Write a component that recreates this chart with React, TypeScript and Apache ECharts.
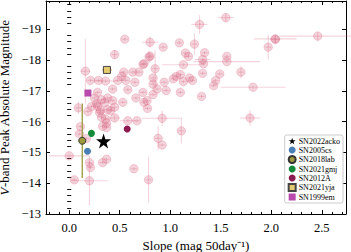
import React, { useEffect, useRef } from "react";
import * as echarts from "echarts";

// Axis ticks
const xMajorTicks = [0, 0.5, 1.0, 1.5, 2.0, 2.5];
const yMajorTicks = [-19, -18, -17, -16, -15, -14, -13];
const xMinorTicks: number[] = [];
for (let k = -2; k <= 27; k++) if (k % 5 !== 0) xMinorTicks.push(k / 10);
const yMinorTicks: number[] = [];
for (let k = -99; k <= -66; k++) if (k % 5 !== 0) yMinorTicks.push(k / 5);

// Comparison sample: [slope, peak mag, slope err, mag err]
const sampleSN: number[][] = [
  [1.55, -19.38, 0.08, 0.15],
  [1.29, -19.16, 0.08, 0.3],
  [0.55, -18.68, 0.03, 0.05],
  [0.80, -18.58, 0.08, 0.18],
  [0.93, -18.42, 0.03, 0.05],
  [1.09, -18.56, 0.03, 0.05],
  [1.24, -18.52, 0.03, 0.35],
  [0.45, -18.18, 0.03, 0.15],
  [0.79, -18.10, 0.03, 0.2],
  [0.80, -18.13, 0.03, 0.05],
  [1.15, -18.23, 0.03, 0.05],
  [1.18, -18.12, 0.03, 0.05],
  [1.34, -18.24, 0.03, 0.05],
  [1.32, -18.02, 0.08, 0.05],
  [1.56, -18.12, 0.03, 0.05],
  [1.56, -17.95, 0.33, 0.05],
  [1.97, -18.42, 0.03, 0.4],
  [2.04, -18.69, 0.21, 0.15],
  [2.04, -18.67, 0.05, 0.1],
  [2.46, -18.78, 0.38, 0.15],
  [0.74, -17.88, 0.03, 0.05],
  [0.73, -17.86, 0.03, 0.05],
  [1.13, -17.85, 0.21, 0.05],
  [1.33, -17.88, 0.03, 0.05],
  [0.16, -17.64, 0.05, 1.05],
  [0.69, -17.61, 0.03, 0.05],
  [0.63, -17.61, 0.03, 0.05],
  [0.54, -17.61, 0.03, 0.05],
  [0.85, -17.72, 0.03, 0.6],
  [1.10, -17.53, 0.03, 0.05],
  [1.06, -17.47, 0.03, 0.05],
  [1.32, -17.57, 0.03, 0.05],
  [1.49, -17.55, 0.03, 0.05],
  [1.70, -17.61, 0.03, 0.2],
  [0.21, -17.34, 0.03, 0.05],
  [0.29, -17.34, 0.03, 0.05],
  [0.36, -17.32, 0.12, 0.05],
  [0.48, -17.34, 0.03, 0.05],
  [0.52, -17.47, 0.03, 0.05],
  [0.56, -17.34, 0.03, 0.05],
  [0.65, -17.28, 0.03, 0.05],
  [0.83, -17.42, 0.03, 0.05],
  [0.83, -17.22, 0.03, 0.05],
  [0.87, -17.06, 0.03, 0.05],
  [0.94, -17.28, 0.03, 0.05],
  [1.03, -17.39, 0.03, 0.05],
  [1.19, -17.42, 0.03, 0.05],
  [1.22, -17.34, 0.03, 0.05],
  [1.13, -17.30, 0.03, 0.05],
  [1.45, -17.34, 0.03, 0.05],
  [1.43, -17.17, 0.03, 0.05],
  [1.82, -17.12, 0.32, 0.05],
  [0.43, -17.06, 0.03, 0.05],
  [0.58, -17.04, 0.03, 0.05],
  [0.96, -17.01, 0.03, 0.05],
  [1.10, -16.95, 0.03, 0.05],
  [1.31, -16.82, 0.03, 0.05],
  [0.28, -16.95, 0.03, 0.05],
  [0.73, -16.95, 0.03, 0.05],
  [0.83, -16.88, 0.03, 0.05],
  [0.66, -16.77, 0.03, 0.05],
  [0.77, -16.68, 0.03, 0.05],
  [0.53, -16.63, 0.03, 0.05],
  [0.43, -16.68, 0.03, 0.05],
  [0.38, -16.77, 0.03, 0.05],
  [0.32, -16.71, 0.03, 0.05],
  [0.25, -16.77, 0.03, 0.05],
  [0.35, -16.62, 0.03, 0.05],
  [0.27, -16.58, 0.03, 0.05],
  [0.28, -16.50, 0.03, 0.05],
  [0.22, -16.49, 0.03, 0.05],
  [0.09, -16.45, 0.03, 0.2],
  [0.74, -16.63, 0.03, 0.05],
  [0.31, -16.36, 0.03, 0.05],
  [0.41, -16.36, 0.03, 0.05],
  [0.185, -16.33, 0.03, 0.05],
  [0.30, -16.30, 0.03, 0.05],
  [0.38, -16.39, 0.03, 0.05],
  [0.45, -16.47, 0.03, 0.05],
  [0.775, -16.43, 0.03, 0.05],
  [0.92, -16.11, 0.2, 0.25],
  [1.79, -16.12, 0.1, 0.25],
  [0.32, -16.14, 0.03, 0.05],
  [0.36, -16.09, 0.03, 0.05],
  [0.45, -16.12, 0.05, 0.1],
  [0.58, -16.03, 0.08, 0.05],
  [0.67, -16.03, 0.03, 0.05],
  [0.11, -15.84, 0.03, 0.05],
  [0.37, -15.81, 0.03, 0.05],
  [0.33, -15.85, 0.03, 0.05],
  [0.37, -15.96, 0.03, 0.05],
  [0.10, -15.60, 0.03, 0.05],
  [0.17, -15.45, 0.03, 0.05],
  [1.11, -15.70, 0.03, 0.4],
  [0.88, -15.46, 0.03, 0.4],
  [0.92, -15.24, 0.03, 0.05],
  [0.00, -14.89, 0.2, 0.05],
  [0.20, -14.67, 0.03, 0.05],
  [0.21, -14.51, 0.03, 0.05],
  [0.33, -14.67, 0.03, 0.05],
  [0.37, -14.78, 0.03, 0.05],
  [0.05, -14.11, 0.03, 0.05],
  [0.20, -14.08, 0.18, 0.8],
  [0.64, -14.47, 0.03, 0.05],
  [0.785, -14.11, 0.03, 0.75],
];

// Highlighted objects
const highlightNames = ["SN2022acko", "SN2005cs", "SN2018lab", "SN2021gmj", "SN2012A", "SN2021yja", "SN1999em"];
const highlightSlope = [0.34, 0.181, 0.129, 0.22, 0.574, 0.373, 0.185];
const highlightMag = [-15.37, -15.04, -15.38, -15.62, -15.76, -17.68, -16.93];
const highlightSlopeErr = [0, 0, 0, 0, 0, 0.05, 0];
const highlightMagErr = [0, 0, 1.21, 0, 0, 0, 0];

const FONT = "Liberation Serif";
const STAR = "path://M50,0 L61.8,35.1 L98.1,35.1 L68.8,56.8 L79.4,90.9 L50,69.1 L20.6,90.9 L31.2,56.8 L1.9,35.1 L38.2,35.1 Z";
const hlStyle = [
  { symbol: STAR, size: 15, color: "#000000", border: "#000000", bw: 0 },
  { symbol: "circle", size: 7, color: "#4a7fb5", border: "#4a7fb5", bw: 0 },
  { symbol: "circle", size: 7, color: "#9c9a3c", border: "#333333", bw: 1 },
  { symbol: "circle", size: 7, color: "#138a3a", border: "#138a3a", bw: 0 },
  { symbol: "circle", size: 7, color: "#8e1a52", border: "#8e1a52", bw: 0 },
  { symbol: "rect", size: 7, color: "#e5c96f", border: "#444444", bw: 1 },
  { symbol: "rect", size: 7, color: "#b84aae", border: "#b84aae", bw: 0 },
];
const errColors = ["#000", "#4a7fb5", "#9c9a3c", "#138a3a", "#8e1a52", "#e5c96f", "#b84aae"];

const PINK = "rgba(214,100,130,0.28)";

export default function App() {
  const ref = useRef<HTMLDivElement>(null);
  useEffect(() => {
    if (!ref.current) return;
    const chart = echarts.init(ref.current, undefined, { renderer: "svg" });

    const baseX = { type: "value", min: -0.23, max: 2.74, splitLine: { show: false } };
    const baseY = { type: "value", min: -19.92, max: -13, inverse: true, splitLine: { show: false } };
    const line = { lineStyle: { color: "#000", width: 1 } };

    const series: any[] = [
      {
        type: "custom",
        name: "sample",
        data: sampleSN,
        z: 1,
        renderItem: (_p: any, api: any) => {
          const x = api.value(0), y = api.value(1), xe = api.value(2), ye = api.value(3);
          const c = api.coord([x, y]);
          const l = api.coord([x - xe, y]);
          const r = api.coord([x + xe, y]);
          const t = api.coord([x, y - ye]);
          const b = api.coord([x, y + ye]);
          return {
            type: "group",
            children: [
              { type: "line", shape: { x1: l[0], y1: l[1], x2: r[0], y2: r[1] }, style: { stroke: PINK, lineWidth: 1.1 } },
              { type: "line", shape: { x1: t[0], y1: t[1], x2: b[0], y2: b[1] }, style: { stroke: PINK, lineWidth: 1.1 } },
              { type: "circle", shape: { cx: c[0], cy: c[1], r: 4.2 }, style: { fill: PINK, stroke: PINK, lineWidth: 1 } },
            ],
          };
        },
      },
      {
        type: "custom",
        name: "hlerr",
        z: 3,
        data: highlightNames.map((_, i) => [highlightSlope[i], highlightMag[i], highlightSlopeErr[i], highlightMagErr[i], i]),
        renderItem: (_p: any, api: any) => {
          const x = api.value(0), y = api.value(1), xe = api.value(2), ye = api.value(3), i = api.value(4);
          const l = api.coord([x - xe, y]);
          const r = api.coord([x + xe, y]);
          const t = api.coord([x, y - ye]);
          const b = api.coord([x, y + ye]);
          const col = errColors[i];
          const ch: any[] = [];
          if (xe > 0) ch.push({ type: "line", shape: { x1: l[0], y1: l[1], x2: r[0], y2: r[1] }, style: { stroke: col, lineWidth: 1.3 } });
          if (ye > 0) ch.push({ type: "line", shape: { x1: t[0], y1: t[1], x2: b[0], y2: b[1] }, style: { stroke: col, lineWidth: 1.3 } });
          return { type: "group", children: ch };
        },
      },
    ];
    highlightNames.forEach((n, i) => {
      const s = hlStyle[i];
      series.push({
        type: "scatter",
        name: n,
        z: i === 0 ? 6 : 5,
        symbol: s.symbol,
        symbolSize: s.size,
        itemStyle: { color: s.color, borderColor: s.border, borderWidth: s.bw, opacity: 1 },
        data: [[highlightSlope[i], highlightMag[i]]],
      });
    });

    chart.setOption({
      animation: false,
      grid: { left: 46, right: 5, top: 1, bottom: 38, outerBoundsMode: "none", containLabel: false },
      legend: {
        data: highlightNames.map((n, i) => ({ name: n, icon: hlStyle[i].symbol })),
        orient: "vertical",
        right: 8,
        bottom: 49,
        itemWidth: 7,
        itemHeight: 7,
        itemGap: 1,
        padding: [2, 3, 2, 3],
        borderColor: "#cccccc",
        borderWidth: 1,
        borderRadius: 2,
        backgroundColor: "rgba(255,255,255,0.85)",
        textStyle: { fontFamily: FONT, fontSize: 8, lineHeight: 7, color: "#000", padding: [0, 0, 0, -2] },
      },
      xAxis: [
        {
          ...baseX,
          position: "bottom",
          axisLine: { onZero: false, ...line },
          axisTick: { inside: true, length: 4, customValues: xMajorTicks, ...line },
          axisLabel: { customValues: xMajorTicks, formatter: (v: number) => v.toFixed(1), fontFamily: FONT, fontSize: 12.5, color: "#000", margin: 7 },
          name: "Slope (mag 50day⁻¹)",
          nameLocation: "middle",
          nameGap: 24,
          nameTextStyle: { fontFamily: FONT, fontSize: 13, color: "#000" },
        },
        {
          ...baseX,
          position: "bottom",
          axisLine: { show: false },
          axisTick: { inside: true, length: 2, customValues: xMinorTicks, ...line },
          axisLabel: { show: false },
        },
        {
          ...baseX,
          position: "top",
          axisLine: { onZero: false, ...line },
          axisTick: { inside: true, length: 4, customValues: xMajorTicks, ...line },
          axisLabel: { show: false },
        },
        {
          ...baseX,
          position: "top",
          axisLine: { show: false },
          axisTick: { inside: true, length: 2, customValues: xMinorTicks, ...line },
          axisLabel: { show: false },
        },
      ],
      yAxis: [
        {
          ...baseY,
          position: "left",
          axisLine: { onZero: false, ...line },
          axisTick: { inside: true, length: 4, customValues: yMajorTicks, ...line },
          axisLabel: { customValues: yMajorTicks, formatter: (v: number) => (v < 0 ? "\u2212" + Math.abs(v) : String(v)), fontFamily: FONT, fontSize: 12.5, color: "#000", margin: 5 },
          name: "{it|V}-band Peak Absolute Magnitude",
          nameLocation: "middle",
          nameGap: 29,
          nameTextStyle: { fontFamily: FONT, fontSize: 13, lineHeight: 13, color: "#000", rich: { it: { fontFamily: FONT, fontSize: 13, lineHeight: 13, fontStyle: "italic", color: "#000" } } },
        },
        {
          ...baseY,
          position: "left",
          axisLine: { show: false },
          axisTick: { inside: true, length: 2, customValues: yMinorTicks, ...line },
          axisLabel: { show: false },
        },
        {
          ...baseY,
          position: "right",
          axisLine: { onZero: false, ...line },
          axisTick: { inside: true, length: 4, customValues: yMajorTicks, ...line },
          axisLabel: { show: false },
        },
        {
          ...baseY,
          position: "right",
          axisLine: { show: false },
          axisTick: { inside: true, length: 2, customValues: yMinorTicks, ...line },
          axisLabel: { show: false },
        },
      ],
      series,
    });
    return () => chart.dispose();
  }, []);
  return <div ref={ref} style={{ width: 351, height: 252, position: "absolute", left: 0, top: 0 }} />;
}
